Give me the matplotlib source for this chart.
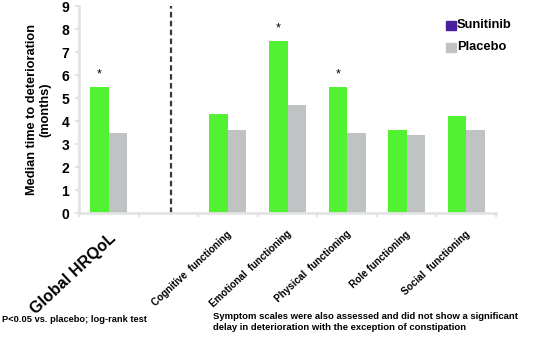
import numpy as np
import matplotlib.pyplot as plt

plt.rcParams['font.family'] = ['Liberation Sans', 'DejaVu Sans']

categories = ['Global HRQoL', '', 'Cognitive  functioning', 'Emotional  functioning',
              'Physical  functioning', 'Role functioning', 'Social  functioning']
sunitinib = [5.5, np.nan, 4.3, 7.5, 5.5, 3.6, 4.2]
placebo = [3.5, np.nan, 3.6, 4.7, 3.5, 3.4, 3.6]
significant = [True, False, False, True, True, False, False]

green = '#52f232'
grey = '#bfc3c3'
purple = '#4a1f9e'
spine = '#e2e4e2'

fig = plt.figure(figsize=(5.43, 3.45), dpi=100)
ax = fig.add_axes([0.1455, 0.3826, 0.768, 0.6])

x = np.arange(len(categories))
w = 0.31
ax.bar(x - w / 2, sunitinib, w, color=green)
ax.bar(x + w / 2, placebo, w, color=grey)
for xi, s, sig in zip(x, sunitinib, significant):
    if sig:
        ax.text(xi - w / 2, s + 0.25, '*', ha='center', va='bottom', fontsize=9)

ax.axvline(1.05, ymin=0, ymax=1.0, color='#3a3a3a', linestyle=(0, (2.5, 1.5)), linewidth=1.6)

ax.set_xlim(-0.5, len(categories) - 0.5)
ax.set_ylim(0, 9)
ax.set_yticks(range(0, 10))
ax.set_yticklabels([str(v) for v in range(0, 10)], fontsize=10, fontweight='bold')
ax.set_xticks(np.arange(-0.5, len(categories), 1))
ax.set_xticklabels([])
ax.tick_params(axis='x', length=3, color=spine, width=1.5)
ax.tick_params(axis='y', length=3, color=spine, width=1.5, pad=4)
for side in ['top', 'right']:
    ax.spines[side].set_visible(False)
for side in ['left', 'bottom']:
    ax.spines[side].set_color(spine)
    ax.spines[side].set_linewidth(2)

ax.set_ylabel('Median time to deterioration\n(months)', fontsize=9.2, fontweight='bold',
              labelpad=7, linespacing=1.25)

# rotated category labels
for xi, lab in zip(x, categories):
    if not lab:
        continue
    if lab == 'Global HRQoL':
        ax.text(xi + 0.0, -0.75, lab, rotation=43, ha='right', va='top',
                rotation_mode='anchor', fontsize=11.6, fontweight='bold')
    else:
        ax.text(xi - 0.02, -0.7, lab, rotation=43, ha='right', va='top',
                rotation_mode='anchor', fontsize=7.1, fontweight='bold')

# legend
fig.patches.append(plt.Rectangle((446 / 543, 1 - 30 / 345), 10 / 543, 9 / 345,
                                 transform=fig.transFigure, color=purple))
fig.patches.append(plt.Rectangle((446 / 543, 1 - 52 / 345), 10 / 543, 9 / 345,
                                 transform=fig.transFigure, color=grey))
fig.text(457 / 543, 1 - 25 / 345, 'Sunitinib', fontsize=9.3, fontweight='bold', va='center')
fig.text(457 / 543, 1 - 47 / 345, 'Placebo', fontsize=9.3, fontweight='bold', va='center')

fig.text(2 / 543, 1 - 319 / 345, 'P<0.05 vs. placebo; log-rank test', fontsize=6.7,
         fontweight='bold', va='center')
fig.text(213 / 543, 1 - 322 / 345,
         'Symptom scales were also assessed and did not show a significant\n'
         'delay in deterioration with the exception of constipation',
         fontsize=6.8, fontweight='bold', va='center', linespacing=1.35)

fig.savefig('out.png', dpi=100)
